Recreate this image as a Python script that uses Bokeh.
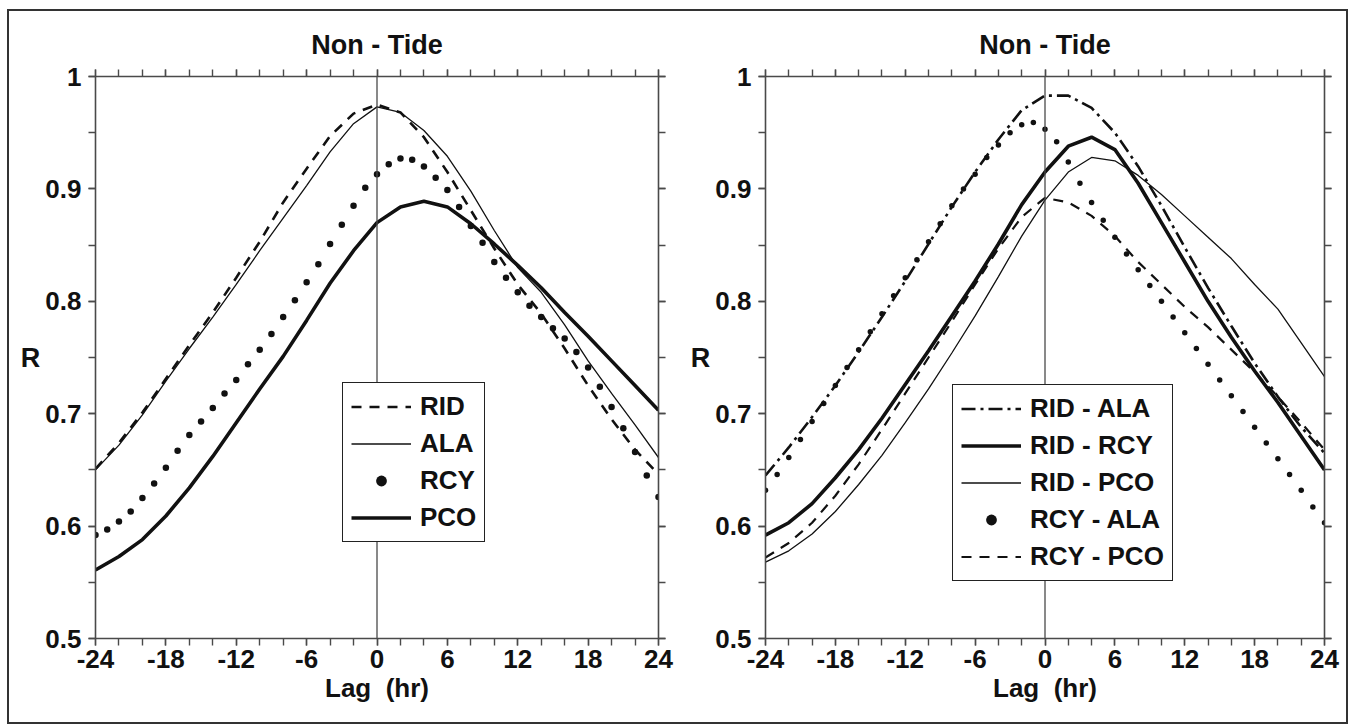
from bokeh.plotting import figure
from bokeh.models import LinearAxis, FixedTicker, Span, Legend, LegendItem, Range1d
from bokeh.layouts import row
from bokeh.embed import file_html
from bokeh.resources import INLINE

FONT = "Liberation Sans"

# ---------------- data ----------------
lag2 = [-24, -22, -20, -18, -16, -14, -12, -10, -8, -6, -4, -2, 0,
        2, 4, 6, 8, 10, 12, 14, 16, 18, 20, 22, 24]
lag1 = list(range(-24, 25))

x_ticks = [-24, -18, -12, -6, 0, 6, 12, 18, 24]
x_tick_labels = ["-24", "-18", "-12", "-6", "0", "6", "12", "18", "24"]
x_minor = list(range(-24, 25, 2))
y_ticks = [0.5, 0.6, 0.7, 0.8, 0.9, 1.0]
y_minor = [0.5, 0.55, 0.6, 0.65, 0.7, 0.75, 0.8, 0.85, 0.9, 0.95, 1.0]
y_tick_labels = ["0.5", "0.6", "0.7", "0.8", "0.9", "1"]

# left panel (stations)
left_rid = [0.651, 0.674, 0.701, 0.731, 0.761, 0.790, 0.821, 0.853, 0.888, 0.918,
            0.947, 0.967, 0.975, 0.968, 0.946, 0.915, 0.881, 0.847, 0.815, 0.789,
            0.758, 0.725, 0.695, 0.668, 0.646]
left_ala = [0.650, 0.672, 0.699, 0.729, 0.758, 0.786, 0.815, 0.845, 0.874, 0.903,
            0.933, 0.958, 0.973, 0.968, 0.952, 0.929, 0.898, 0.863, 0.830, 0.808,
            0.779, 0.747, 0.718, 0.690, 0.661]
left_rcy = [0.592, 0.597, 0.604, 0.613, 0.625, 0.638, 0.652, 0.667, 0.681, 0.693,
            0.705, 0.718, 0.730, 0.744, 0.757, 0.771, 0.786, 0.801, 0.817, 0.833,
            0.851, 0.868, 0.885, 0.901, 0.913, 0.922, 0.927, 0.926, 0.920, 0.910,
            0.899, 0.884, 0.867, 0.852, 0.835, 0.821, 0.808, 0.796, 0.786, 0.776,
            0.767, 0.755, 0.741, 0.724, 0.706, 0.687, 0.666, 0.645, 0.626]
left_pco = [0.561, 0.573, 0.588, 0.609, 0.634, 0.662, 0.692, 0.722, 0.751, 0.783,
            0.816, 0.845, 0.870, 0.884, 0.889, 0.884, 0.869, 0.851, 0.832, 0.812,
            0.790, 0.769, 0.747, 0.725, 0.703]

# right panel (station pairs)
right_rid_ala = [0.645, 0.670, 0.697, 0.725, 0.755, 0.786, 0.818, 0.851, 0.884, 0.915,
                 0.944, 0.970, 0.983, 0.983, 0.972, 0.950, 0.920, 0.885, 0.848, 0.812,
                 0.778, 0.745, 0.715, 0.688, 0.665]
right_rid_rcy = [0.592, 0.603, 0.620, 0.643, 0.668, 0.696, 0.726, 0.756, 0.787, 0.818,
                 0.851, 0.886, 0.915, 0.938, 0.946, 0.935, 0.905, 0.870, 0.835, 0.800,
                 0.768, 0.738, 0.710, 0.680, 0.650]
right_rid_pco = [0.568, 0.578, 0.593, 0.613, 0.637, 0.663, 0.692, 0.722, 0.754, 0.787,
                 0.822, 0.858, 0.890, 0.915, 0.928, 0.925, 0.912, 0.895, 0.876, 0.857,
                 0.838, 0.815, 0.793, 0.763, 0.733]
right_rcy_ala = [0.632, 0.646, 0.661, 0.677, 0.693, 0.709, 0.725, 0.741, 0.757, 0.773,
                 0.789, 0.805, 0.821, 0.837, 0.853, 0.869, 0.885, 0.900, 0.913, 0.928,
                 0.939, 0.950, 0.957, 0.959, 0.953, 0.942, 0.924, 0.905, 0.888, 0.872,
                 0.857, 0.842, 0.828, 0.814, 0.800, 0.786, 0.772, 0.758, 0.744, 0.730,
                 0.716, 0.702, 0.688, 0.674, 0.660, 0.646, 0.632, 0.617, 0.603]
right_rcy_pco = [0.572, 0.585, 0.603, 0.627, 0.655, 0.686, 0.718, 0.750, 0.782, 0.815,
                 0.847, 0.875, 0.892, 0.888, 0.876, 0.858, 0.835, 0.815, 0.795, 0.777,
                 0.757, 0.737, 0.715, 0.692, 0.668]

AXIS_COLOR = "#4a4a4a"
TEXT_COLOR = "#111111"
FIG_H = 725


def base_axis(ax):
    ax.axis_line_color = AXIS_COLOR
    ax.axis_line_width = 1.6
    ax.major_tick_line_color = AXIS_COLOR
    ax.minor_tick_line_color = AXIS_COLOR
    ax.major_tick_line_width = 1.4
    ax.minor_tick_line_width = 1.4
    ax.major_tick_out = 7
    ax.major_tick_in = 0
    ax.minor_tick_out = 7
    ax.minor_tick_in = 0


def hide_labels(ax):
    ax.major_label_text_color = None
    ax.major_label_text_font_size = "1px"
    ax.major_label_standoff = 0


def make_panel(width, bl, br):
    p = figure(width=width, height=FIG_H, output_backend="svg", toolbar_location=None,
               x_range=Range1d(-24, 24), y_range=Range1d(0.5, 1.0),
               min_border_left=bl, min_border_right=br, min_border_top=76,
               min_border_bottom=FIG_H - 76 - 562,
               x_axis_location=None, y_axis_location=None)
    p.grid.visible = False
    p.outline_line_color = None
    p.background_fill_color = "white"
    p.border_fill_color = None
    p.title.text = "Non - Tide"
    p.title.align = "center"
    p.title.text_font = FONT
    p.title.text_font_style = "bold"
    p.title.text_font_size = "27px"
    p.title.text_color = TEXT_COLOR
    p.title.standoff = 19

    ax = LinearAxis(ticker=FixedTicker(ticks=x_ticks, minor_ticks=x_minor))
    base_axis(ax)
    ax.major_label_overrides = {t: s for t, s in zip(x_ticks, x_tick_labels)}
    ax.major_label_text_font = FONT
    ax.major_label_text_font_style = "bold"
    ax.major_label_text_font_size = "26px"
    ax.major_label_text_color = TEXT_COLOR
    ax.major_label_standoff = 4
    ax.axis_label = "Lag\u00a0\u00a0(hr)"
    ax.axis_label_text_font = FONT
    ax.axis_label_text_font_style = "bold"
    ax.axis_label_text_font_size = "26px"
    ax.axis_label_text_color = TEXT_COLOR
    ax.axis_label_standoff = 2
    p.add_layout(ax, "below")

    ax = LinearAxis(ticker=FixedTicker(ticks=x_ticks, minor_ticks=x_minor))
    base_axis(ax)
    hide_labels(ax)
    p.add_layout(ax, "above")

    ax = LinearAxis(ticker=FixedTicker(ticks=y_ticks, minor_ticks=y_minor))
    base_axis(ax)
    ax.major_label_overrides = {t: s for t, s in zip(y_ticks, y_tick_labels)}
    ax.major_label_text_font = FONT
    ax.major_label_text_font_style = "bold"
    ax.major_label_text_font_size = "26px"
    ax.major_label_text_color = TEXT_COLOR
    ax.major_label_standoff = 7
    ax.axis_label = "R"
    ax.axis_label_orientation = "horizontal"
    ax.axis_label_text_font = FONT
    ax.axis_label_text_font_style = "bold"
    ax.axis_label_text_font_size = "27px"
    ax.axis_label_text_color = TEXT_COLOR
    ax.axis_label_standoff = 2
    p.add_layout(ax, "left")

    ax = LinearAxis(ticker=FixedTicker(ticks=y_ticks, minor_ticks=y_minor))
    base_axis(ax)
    hide_labels(ax)
    p.add_layout(ax, "right")

    p.add_layout(Span(location=0, dimension="height", line_color=AXIS_COLOR, line_width=1.3))
    return p


def style_legend(items, loc):
    return Legend(items=items, location=loc, orientation="vertical",
                  label_text_font=FONT, label_text_font_style="bold",
                  label_text_font_size="26px", label_text_color=TEXT_COLOR,
                  glyph_width=60, glyph_height=27, label_height=27,
                  spacing=6, padding=8, margin=0, label_standoff=9,
                  border_line_color="#222222", border_line_width=1.8,
                  border_line_alpha=1.0,
                  background_fill_color="white", background_fill_alpha=1.0)


# ---------- left panel ----------
p1 = make_panel(684, 95, 26)
r_rid = p1.line(lag2, left_rid, line_color=TEXT_COLOR, line_width=2.6, line_dash="10 8")
r_ala = p1.line(lag2, left_ala, line_color=TEXT_COLOR, line_width=1.3)
r_rcy = p1.scatter(lag1, left_rcy, size=6.5, fill_color=TEXT_COLOR, line_color=None)
r_pco = p1.line(lag2, left_pco, line_color=TEXT_COLOR, line_width=3.6)
p1.add_layout(style_legend([
    LegendItem(label="RID", renderers=[r_rid]),
    LegendItem(label="ALA", renderers=[r_ala]),
    LegendItem(label="RCY", renderers=[r_rcy]),
    LegendItem(label="PCO", renderers=[r_pco]),
], (247, 96)))

# ---------- right panel ----------
p2 = make_panel(668, 81, 28)
q1 = p2.line(lag2, right_rid_ala, line_color=TEXT_COLOR, line_width=2.6, line_dash="14 5 3 5")
q2 = p2.line(lag2, right_rid_rcy, line_color=TEXT_COLOR, line_width=3.6)
q3 = p2.line(lag2, right_rid_pco, line_color=TEXT_COLOR, line_width=1.3)
q4 = p2.scatter(lag1, right_rcy_ala, size=5.5, fill_color=TEXT_COLOR, line_color=None)
q5 = p2.line(lag2, right_rcy_pco, line_color=TEXT_COLOR, line_width=2.2, line_dash="10 8")
p2.add_layout(style_legend([
    LegendItem(label="RID - ALA", renderers=[q1]),
    LegendItem(label="RID - RCY", renderers=[q2]),
    LegendItem(label="RID - PCO", renderers=[q3]),
    LegendItem(label="RCY - ALA", renderers=[q4]),
    LegendItem(label="RCY - PCO", renderers=[q5]),
], (187, 57)))

G = "linear-gradient(#333333,#333333)"
frame_bg = ", ".join([
    G + " 7px 9px / 2px 715px no-repeat",
    G + " 1346px 9px / 2px 715px no-repeat",
    G + " 7px 9px / 1341px 2px no-repeat",
    G + " 7px 722px / 1341px 2px no-repeat",
    "white",
])
layout = row(p1, p2, styles={"background": frame_bg})

open("out.html", "w").write(file_html(layout, INLINE))
